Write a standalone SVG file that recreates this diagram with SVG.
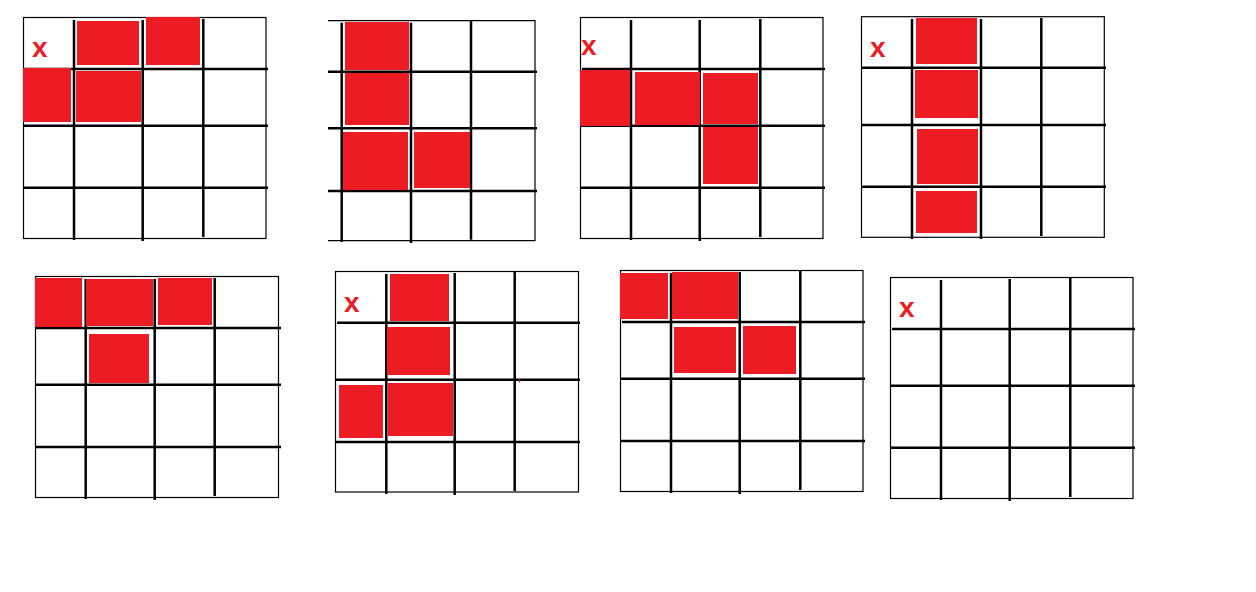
<svg xmlns="http://www.w3.org/2000/svg" width="1256" height="592" viewBox="0 0 1256 592">
<style>
.b{fill:none;stroke:#000;stroke-width:1.2}
.g{stroke:#000;stroke-width:2.5;fill:none}
.r{fill:#ED1C24}
.x{fill:#ED1C24;font-family:"Liberation Sans",Arial,sans-serif;font-weight:bold;font-size:28px}
</style>
<rect width="1256" height="592" fill="#fff"/>
<g id="grid1">
<rect class="b" x="23.5" y="17.5" width="242.5" height="221"/>
<path class="g" d="M74 20V240M142.7 20V241M203.3 19V237M23 69H268M23 125.7H268M23 187.7H268"/>
<rect class="r" x="77" y="21" width="62" height="44"/>
<rect class="r" x="146" y="17" width="54" height="48"/>
<rect class="r" x="23" y="68" width="48" height="54"/>
<rect class="r" x="76" y="71" width="65" height="51"/>
<text class="x" x="32" y="57">x</text>
</g>
<g id="grid2">
<path class="b" d="M328 20.7H535V240.7H328"/>
<path class="g" d="M341.7 22.7V242M411 22.7V243M471 20.7V239.7M328 71.7H537M328 128.3H537M328 191H537"/>
<rect class="r" x="345" y="22" width="64" height="48"/>
<rect class="r" x="345" y="73" width="64" height="52"/>
<rect class="r" x="343" y="132" width="65" height="58"/>
<rect class="r" x="414" y="132" width="56" height="56"/>
</g>
<g id="grid3">
<rect class="b" x="580.5" y="17.5" width="242.5" height="221"/>
<path class="g" d="M631 20V240M699.7 20V241M760.3 19V237M582 69H825M580 125.7H825M580 187.7H825"/>
<rect class="r" x="580" y="70" width="50" height="56"/>
<rect class="r" x="635" y="72" width="65" height="53"/>
<rect class="r" x="703" y="73" width="55" height="51"/>
<rect class="r" x="703" y="127" width="55" height="57"/>
<text class="x" x="581" y="55">x</text>
</g>
<g id="grid4">
<rect class="b" x="861.5" y="16.7" width="242.8" height="220.6"/>
<path class="g" d="M912 19V239M981 19V239M1041.3 18V236M862 67.7H1106M862 125H1106M862 186.7H1106"/>
<rect class="r" x="916" y="18" width="61" height="46"/>
<rect class="r" x="915" y="70" width="63" height="48"/>
<rect class="r" x="917" y="129" width="61" height="55"/>
<rect class="r" x="916" y="191" width="61" height="42"/>
<text class="x" x="870" y="57">x</text>
</g>
<g id="grid5">
<rect class="b" x="35.5" y="276.5" width="243" height="221"/>
<path class="g" d="M85.7 279V499M154.7 279V500M214.7 278V496M36 328H281M36 384.7H281M36 447H281"/>
<rect class="r" x="35" y="278" width="47" height="49"/>
<rect class="r" x="86" y="279" width="67" height="47"/>
<rect class="r" x="158" y="278" width="54" height="47"/>
<rect class="r" x="89" y="334" width="60" height="49"/>
</g>
<g id="grid6">
<rect class="b" x="335.5" y="271.5" width="243" height="220.5"/>
<path class="g" d="M386.3 274V494M454.7 273V495M514.7 272V491M337 322.7H580M335 379.7H580M335 442H580"/>
<rect class="r" x="390" y="274" width="59" height="47"/>
<rect class="r" x="387" y="327" width="63" height="48"/>
<rect class="r" x="339" y="385" width="44" height="53"/>
<rect class="r" x="388" y="383" width="65" height="53"/>
<rect x="519" y="379.5" width="1.2" height="3" fill="#b0303a"/>
<text class="x" x="344" y="312">x</text>
</g>
<g id="grid7">
<rect class="b" x="620.5" y="270.5" width="242.5" height="221"/>
<path class="g" d="M671 273V493M739.7 272V494M800.3 271V490M622 322H865M620 378.7H865M620 441H865"/>
<rect class="r" x="620" y="273" width="48" height="46"/>
<rect class="r" x="672" y="272" width="66" height="47"/>
<rect class="r" x="674" y="327" width="62" height="46"/>
<rect class="r" x="743" y="326" width="53" height="48"/>
</g>
<g id="grid8">
<rect class="b" x="890.5" y="277.5" width="242.5" height="221"/>
<path class="g" d="M941 280V500M1009.7 279V501M1070.3 278V497M892 329H1135M890 385.7H1135M890 447.7H1135"/>
<text class="x" x="899" y="317">x</text>
</g>
</svg>
